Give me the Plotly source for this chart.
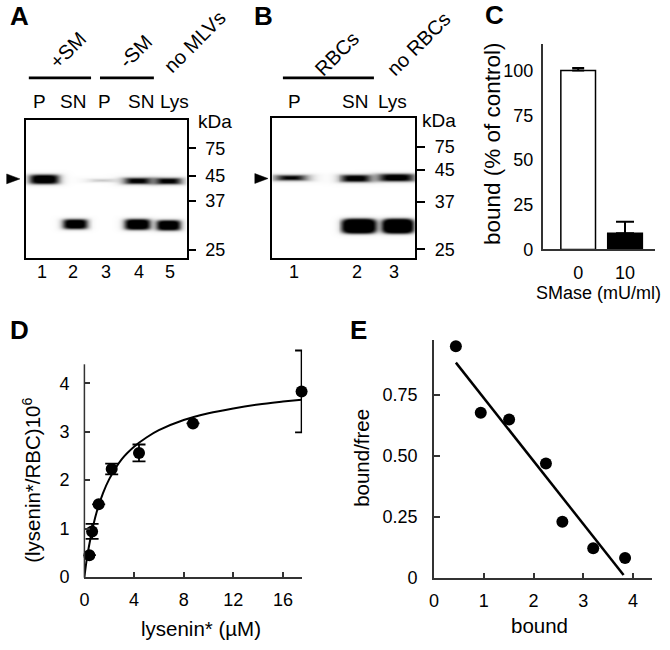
import numpy as np
import plotly.graph_objects as go

W, H = 670, 650
FONT = "Liberation Sans, Arial, Helvetica, sans-serif"

# ---------------- data ----------------
# Panel A (gel): lane labels
gelA_lane_labels = ["P", "SN", "P", "SN", "Lys"]
gelA_lane_numbers = ["1", "2", "3", "4", "5"]
gelA_groups = ["+SM", "-SM", "no MLVs"]
# Panel B (gel)
gelB_lane_labels = ["P", "SN", "Lys"]
gelB_lane_numbers = ["1", "2", "3"]
gelB_groups = ["RBCs", "no RBCs"]
mw_labels = ["75", "45", "37", "25"]

# band content: relative intensity of each band (geometry is in the layout section)
gelA_band_int = [1.0, 1.0, 0.22, 1.0, 1.0, 1.0, 1.0]
gelB_band_int = [1.0, 1.0, 1.0, 1.0, 1.0]

# Panel C
c_categories = ["0", "10"]
c_values = [100, 9]
c_err_up = [1.5, 6.5]

# Panel D
d_x = [0.4, 0.62, 1.15, 2.2, 4.4, 8.75, 17.5]
d_y = [0.45, 0.94, 1.50, 2.23, 2.56, 3.17, 3.83]
d_err = [None, 0.155, None, 0.11, 0.175, None, 0.845]
d_fit_x = [0, 0.2, 0.5, 1, 1.5, 2, 3, 4, 5, 6, 8, 10, 12, 14, 16, 17.5]
d_fit_y = [0, 0.38, 0.81, 1.35, 1.73, 2.02, 2.43, 2.69, 2.88, 3.03, 3.24, 3.38, 3.48, 3.56, 3.62, 3.66]

# Panel E
e_x = [0.44, 0.94, 1.51, 2.25, 2.58, 3.20, 3.84]
e_y = [0.948, 0.676, 0.648, 0.468, 0.229, 0.121, 0.081]
e_fit_x = [0.44, 3.81]
e_fit_y = [0.881, 0.011]

# ---------------- layout geometry (page pixels) ----------------
def px(x):
    return x / W

def py(y):
    return 1 - y / H

gelA_box = (20.7, 183.3, 121.7, 261.7)
gelB_box = (269.3, 413.5, 120.0, 261.7)
gelA_mw_pos = [150.7, 178.3, 204.3, 254.0]
gelB_mw_pos = [149.3, 172.3, 205.0, 253.3]
gelA_band_geom = [  # cx, width, cy, height
    (39.0, 28.0, 181.7, 9.0), (70.0, 23.5, 227.5, 9.5), (97.8, 21.0, 182.8, 2.4),
    (133.3, 23.3, 183.3, 5.5), (133.2, 25.0, 227.8, 10.5),
    (164.2, 23.0, 183.5, 5.5), (164.3, 23.3, 228.7, 10.0)]
gelB_band_geom = [
    (287.5, 26.3, 180.2, 4.5), (353.0, 27.3, 180.8, 6.5), (356.5, 35.0, 229.5, 15.0),
    (394.0, 33.0, 180.0, 7.0), (395.5, 32.0, 229.5, 15.0)]


def gel_image(box, geoms, intens):
    x0, x1, y0, y1 = box
    xs = np.arange(x0, x1 + 0.01, 1.0)
    ys = np.arange(y0, y1 + 0.01, 1.0)
    X, Y = np.meshgrid(xs, ys)
    Z = np.zeros_like(X)
    for (cx, w, cy, h), a in zip(geoms, intens):
        hx, hy = w / 2, h / 2
        r = ((np.abs(X - cx) / hx) ** 4 + (np.abs(Y - cy) / hy) ** 4) ** 0.25
        edge = (1 - r) * max(hy, 1.5) / 0.8
        Z += a / (1 + np.exp(-np.clip(edge, -50, 50)))
    Z = np.clip(Z * 1.15, 0, 1)
    return xs.tolist(), ys.tolist(), np.round(Z, 3).tolist()


fig = go.Figure()

gray = [[0, "white"], [1, "black"]]
xa, ya, za = gel_image(gelA_box, gelA_band_geom, gelA_band_int)
fig.add_trace(go.Heatmap(x=xa, y=ya, z=za, colorscale=gray, zmin=0, zmax=1, showscale=False,
                         hoverinfo="skip", zsmooth="best", xaxis="x", yaxis="y"))
xb, yb, zb = gel_image(gelB_box, gelB_band_geom, gelB_band_int)
fig.add_trace(go.Heatmap(x=xb, y=yb, z=zb, colorscale=gray, zmin=0, zmax=1, showscale=False,
                         hoverinfo="skip", zsmooth="best", xaxis="x2", yaxis="y2"))

# Panel C bars
c_fill = ["white", "black"]
c_capw = [6, 9]
for cat, v, e, f, cw in zip(c_categories, c_values, c_err_up, c_fill, c_capw):
    fig.add_trace(go.Bar(x=[cat], y=[v], width=0.74,
                         marker=dict(color=f, line=dict(color="black", width=1.5)),
                         error_y=dict(type="data", symmetric=False, array=[e], arrayminus=[0],
                                      width=cw, thickness=2, color="black"),
                         xaxis="x3", yaxis="y3", showlegend=False))

# Panel D
fig.add_trace(go.Scatter(x=d_fit_x, y=d_fit_y, mode="lines", line=dict(color="black", width=2, shape="spline"),
                         xaxis="x4", yaxis="y4", showlegend=False, hoverinfo="skip"))
fig.add_trace(go.Scatter(x=d_x, y=d_y, mode="markers", marker=dict(color="black", size=12),
                         error_y=dict(type="data", array=d_err, width=6.5, thickness=1.8, color="black"),
                         cliponaxis=False, xaxis="x4", yaxis="y4", showlegend=False))

# Panel E
fig.add_trace(go.Scatter(x=e_fit_x, y=e_fit_y, mode="lines", line=dict(color="black", width=2.5),
                         xaxis="x5", yaxis="y5", showlegend=False, hoverinfo="skip"))
fig.add_trace(go.Scatter(x=e_x, y=e_y, mode="markers", marker=dict(color="black", size=12),
                         cliponaxis=False, xaxis="x5", yaxis="y5", showlegend=False))

axcol = "#333333"
base = dict(showgrid=False, zeroline=False, showline=True, linewidth=1.5)
tf = dict(family=FONT, size=18, color="black")

D_Y0, D_PPU = 586.0, 49.2      # panel D: y=0 pixel, pixels per unit
D_YTOP_LINE = 370.0            # visible end of the y axis line
D_YMAX = 4.8                   # extended range so the tall error bar is not clipped

layout = dict(
    width=W, height=H, margin=dict(l=0, r=0, t=0, b=0), autosize=False,
    paper_bgcolor="white", plot_bgcolor="rgba(0,0,0,0)", showlegend=False,
    barmode="overlay", font=dict(family=FONT, color="black"),
    # gel A
    xaxis=dict(domain=[px(gelA_box[0]), px(gelA_box[1])], range=[gelA_box[0], gelA_box[1]],
               showticklabels=False, ticks="", linecolor="black", mirror=True, anchor="y", **base),
    yaxis=dict(domain=[py(gelA_box[3]), py(gelA_box[2])], range=[gelA_box[3], gelA_box[2]],
               side="right", ticks="outside", ticklen=7, tickwidth=1.5, tickcolor="black",
               tickvals=gelA_mw_pos, ticktext=mw_labels, tickfont=tf, ticklabelstandoff=6,
               linecolor="black", mirror=True, anchor="x", **base),
    # gel B
    xaxis2=dict(domain=[px(gelB_box[0]), px(gelB_box[1])], range=[gelB_box[0], gelB_box[1]],
                showticklabels=False, ticks="", linecolor="black", mirror=True, anchor="y2", **base),
    yaxis2=dict(domain=[py(gelB_box[3]), py(gelB_box[2])], range=[gelB_box[3], gelB_box[2]],
                side="right", ticks="outside", ticklen=8, tickwidth=1.5, tickcolor="black",
                tickvals=gelB_mw_pos, ticktext=mw_labels, tickfont=tf, ticklabelstandoff=6,
                linecolor="black", mirror=True, anchor="x2", **base),
    # panel C
    xaxis3=dict(domain=[px(541.7), px(655)], type="category", categoryorder="array",
                categoryarray=c_categories, range=[-0.758, 1.642], ticks="", tickfont=tf,
                linecolor=axcol, anchor="y3", ticklabelstandoff=6, **base),
    yaxis3=dict(domain=[py(253.3), py(45)], range=[0, 114.7], tickvals=[0, 25, 50, 75, 100],
                ticks="", tickfont=tf, linecolor=axcol, anchor="x3", ticklabelstandoff=4, **base),
    # panel D
    xaxis4=dict(domain=[px(80), px(299.3)], range=[0, 17.54], tickvals=[0, 4, 8, 12, 16],
                ticks="inside", ticklen=5, tickwidth=1.5, tickcolor=axcol, tickfont=tf,
                linecolor=axcol, anchor="y4", ticklabelstandoff=6, **base),
    yaxis4=dict(domain=[py(D_Y0), py(D_Y0 - D_YMAX * D_PPU)], range=[0, D_YMAX], tickvals=[0, 1, 2, 3, 4],
                ticks="inside", ticklen=6, tickwidth=1.5, tickcolor=axcol, tickfont=tf,
                anchor="x4", ticklabelstandoff=14, showgrid=False, zeroline=False, showline=False),
    # panel E
    xaxis5=dict(domain=[px(432.2), px(652.3)], range=[0, 4.39], tickvals=[0, 1, 2, 3, 4],
                ticks="inside", ticklen=5, tickwidth=1.5, tickcolor=axcol, tickfont=tf,
                linecolor=axcol, anchor="y5", ticklabelstandoff=6, **base),
    yaxis5=dict(domain=[py(586.7), py(345)], range=[0, 0.975], tickvals=[0, 0.25, 0.5, 0.75],
                ticktext=["0", "0.25", "0.50", "0.75"],
                ticks="inside", ticklen=6, tickwidth=1.5, tickcolor=axcol, tickfont=tf,
                linecolor=axcol, anchor="x5", ticklabelstandoff=11, **base),
)
fig.update_layout(**layout)

ann = []

def text(t, x, y, size=18, angle=0, bold=False, xanchor="center"):
    ann.append(dict(text=("<b>%s</b>" % t) if bold else t, x=px(x), y=py(y), xref="paper", yref="paper",
                    showarrow=False, textangle=angle, xanchor=xanchor, yanchor="middle",
                    font=dict(family=FONT, size=size, color="black")))

# panel letters
for L, x, y in [("A", 14.5, 16), ("B", 260, 16), ("C", 493, 15), ("D", 15, 335.5), ("E", 356, 335)]:
    text(L, x, y, size=26, bold=True)

# gel A labels
for t, x in zip(gelA_lane_labels, [35, 68.3, 100, 137.5, 170.8]):
    text(t, x, 103.5, size=19)
for t, x in zip(gelA_lane_numbers, [37.5, 68.3, 101.7, 135, 166.7]):
    text(t, x, 276)
for t, (x, y) in zip(gelA_groups, [(63.3, 50.8), (131.7, 51.7), (190.8, 42.5)]):
    text(t, x, y, size=20, angle=-45)
text("kDa", 212, 123, size=19)

# gel B labels
for t, x in zip(gelB_lane_labels, [291.7, 353, 390.8]):
    text(t, x, 103.5, size=19)
for t, x in zip(gelB_lane_numbers, [290.8, 355, 391.7]):
    text(t, x, 276)
for t, (x, y) in zip(gelB_groups, [(334.2, 55), (416.7, 45)]):
    text(t, x, y, size=20, angle=-45)
text("kDa", 437.5, 122, size=19)

# axis titles
text("bound (% of control)", 491, 146, size=22.5, angle=-90)
text("SMase (mU/ml)", 598, 298, size=18)
text("(lysenin*/RBC)10<sup>6</sup>", 27.5, 488, size=20.5, angle=-90)
text("lysenin* (µM)", 197, 638, size=20.5)
text("bound/free", 359.7, 465, size=20.5, angle=-90)
text("bound", 538.3, 635, size=20.5)

shapes = []
# panel D y axis line (drawn separately so the axis range can extend for the error bar)
shapes.append(dict(type="line", xref="paper", yref="paper", x0=px(80), x1=px(80),
                   y0=py(D_Y0 + 0.75), y1=py(D_YTOP_LINE), line=dict(color=axcol, width=1.5)))
for x0, x1 in [(24, 86.7), (95.7, 150), (280, 371.7)]:
    shapes.append(dict(type="line", xref="paper", yref="paper", x0=px(x0), x1=px(x1), y0=py(79), y1=py(79),
                       line=dict(color="black", width=2.7)))
for bx, tx, yc in [(1.7, 15, 181.7), (251.7, 265, 181.3)]:
    path = "M %f,%f L %f,%f L %f,%f Z" % (px(bx), py(yc - 5), px(tx), py(yc), px(bx), py(yc + 5))
    shapes.append(dict(type="path", xref="paper", yref="paper", path=path,
                       fillcolor="black", line=dict(color="black", width=0.5)))

fig.update_layout(annotations=ann, shapes=shapes)
fig.write_html("out.html", config={"displayModeBar": False},
               post_script="document.body.style.margin='0';document.body.style.padding='0';"
                           "document.body.style.overflow='hidden';")
